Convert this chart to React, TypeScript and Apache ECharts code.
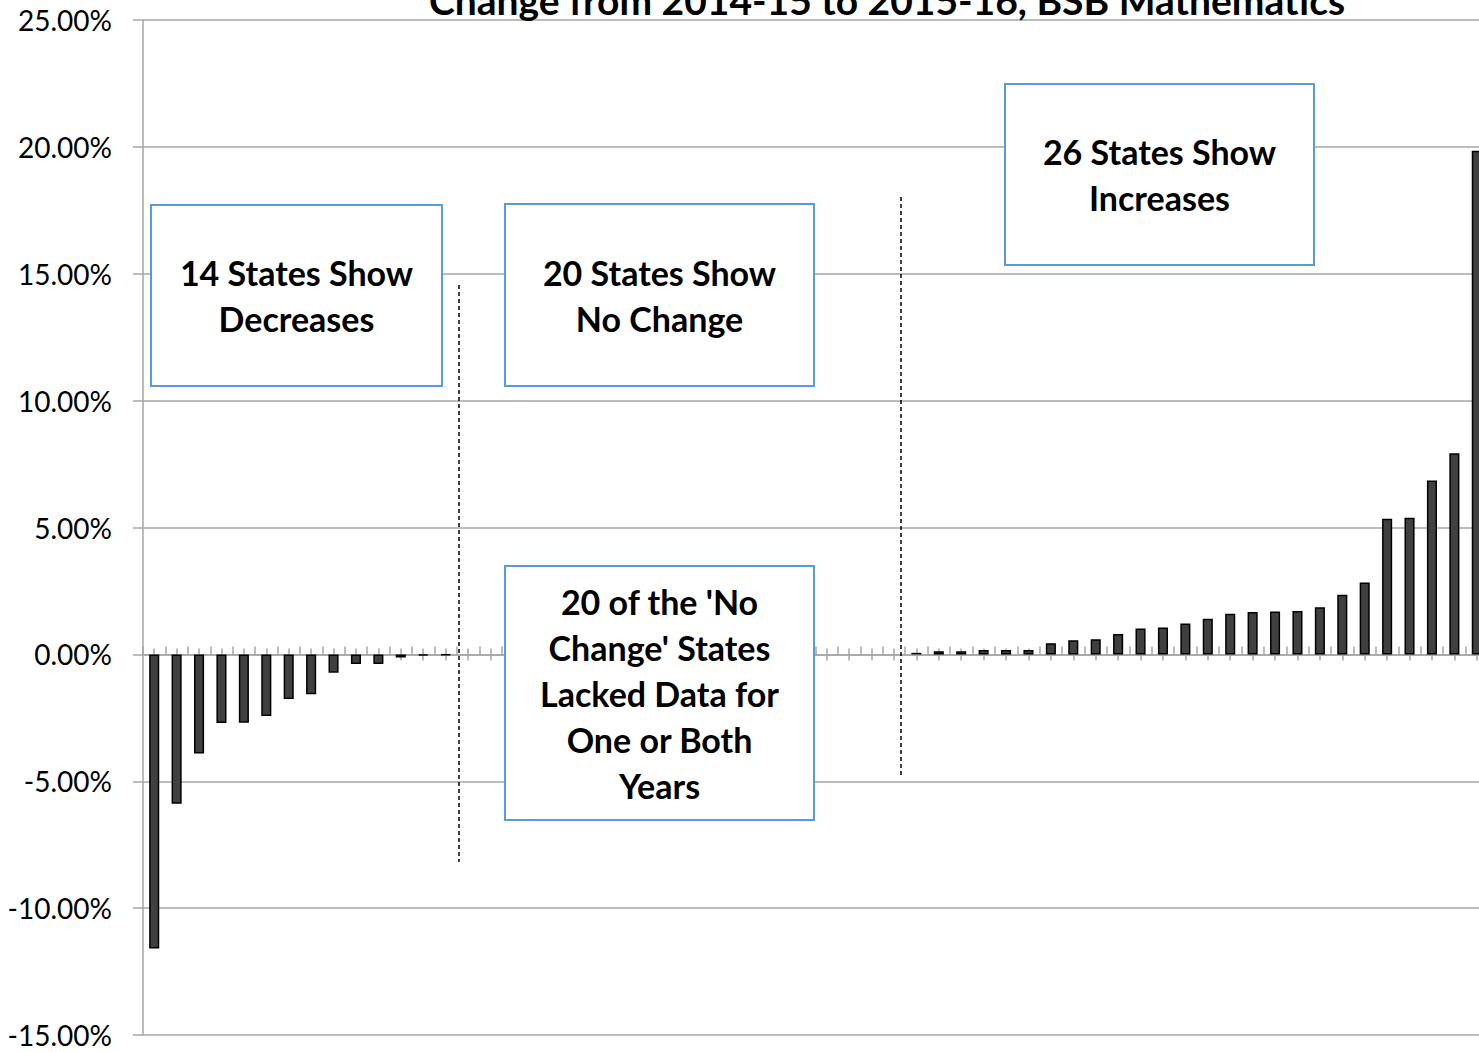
import React, { useEffect, useRef } from "react";
import * as echarts from "echarts";

// Percent change, 2014-15 to 2015-16, BSB Mathematics (sorted)
const decreases = [-11.59, -5.89, -3.91, -2.7, -2.69, -2.43, -1.76, -1.57, -0.72, -0.38, -0.38, -0.12, -0.04, -0.03];
const noChange = [0, 0, 0, 0, 0, 0, 0, 0, 0, 0, 0, 0, 0, 0, 0, 0, 0, 0, 0, 0];
const increases = [0.06, 0.12, 0.12, 0.17, 0.17, 0.17, 0.44, 0.56, 0.6, 0.8, 1.02, 1.06, 1.22, 1.4, 1.6, 1.67, 1.69, 1.71, 1.86, 2.35, 2.83, 5.34, 5.38, 6.85, 7.93, 19.85];
const values = [...decreases, ...noChange, ...increases];
const categories = values.map((_, i) => `State ${i + 1}`);

const yMin = -15;
const yMax = 25;
const yStep = 5;

const titleText = "Change from 2014-15 to 2015-16, BSB Mathematics";
const boxTexts = [
  "14 States Show\nDecreases",
  "20 States Show\nNo Change",
  "26 States Show\nIncreases",
  "20 of the 'No\nChange' States\nLacked Data for\nOne or Both\nYears",
];

const GREY = "#a6a6a6";
const BLUE = "#5b9bd5";
const FONT = "Lato";

function box(x: number, y: number, w: number, h: number, text: string) {
  return [
    {
      type: "rect",
      shape: { x, y, width: w, height: h },
      style: { fill: "#fff", stroke: BLUE, lineWidth: 2 },
      z: 10,
    },
    {
      type: "text",
      x: x + w / 2,
      y: y + h / 2,
      style: {
        text,
        fontFamily: FONT,
        fontWeight: "bold",
        fontSize: 34,
        lineHeight: 46,
        fill: "#000",
        align: "center",
        verticalAlign: "middle",
      },
      z: 11,
    },
  ];
}

export default function App() {
  const ref = useRef<HTMLDivElement>(null);
  useEffect(() => {
    if (!ref.current) return;
    const chart = echarts.init(ref.current, undefined, { renderer: "svg" });
    const tickAxis = (inside: boolean, len: number, align: boolean, showLine: boolean, yIdx: number) => ({
      type: "category",
      data: categories,
      position: "bottom",
      boundaryGap: true,
      axisLine: { show: showLine, onZero: true, onZeroAxisIndex: yIdx, lineStyle: { color: GREY, width: 1.5 } },
      axisTick: { show: true, interval: 0, inside, length: len, alignWithLabel: align, lineStyle: { color: GREY, width: 1.5 } },
      axisLabel: { show: false, interval: 0 },
      splitLine: { show: false },
    });
    const hiddenY = { type: "value", min: yMin, max: yMax, interval: yStep, show: false, splitLine: { show: false } };
    chart.setOption({
      animation: false,
      backgroundColor: "#fff",
      grid: { left: 143, right: 12, top: 20, bottom: 17, containLabel: false },
      xAxis: [tickAxis(true, 8, false, true, 0), tickAxis(false, 6, true, false, 1), tickAxis(true, 6, true, false, 2)],
      yAxis: [
        {
          type: "value",
          min: yMin,
          max: yMax,
          interval: yStep,
          axisLine: { show: true, lineStyle: { color: GREY, width: 1.5 } },
          axisTick: { show: true, inside: false, length: 10, lineStyle: { color: GREY, width: 1.5 } },
          axisLabel: {
            formatter: (v: number) => v.toFixed(2) + "%",
            fontFamily: FONT,
            fontSize: 28,
            color: "#000",
            margin: 31,
          },
          splitLine: { show: true, lineStyle: { color: GREY, width: 1.5 } },
        },
        hiddenY,
        hiddenY,
      ],
      series: [
        {
          type: "bar",
          xAxisIndex: 0,
          yAxisIndex: 0,
          data: values.map((v) => (v === 0 ? "-" : v)),
          barWidth: "45%",
          itemStyle: { color: "#404040", borderColor: "#000", borderWidth: 1.5 },
        },
      ],
      graphic: [
        {
          type: "text",
          x: 887,
          y: 0,
          style: {
            text: titleText,
            fontFamily: FONT,
            fontWeight: "bold",
            fontSize: 39,
            fill: "#000",
            align: "center",
            verticalAlign: "middle",
          },
          z: 12,
        },
        {
          type: "line",
          shape: { x1: 459, y1: 285, x2: 459, y2: 862 },
          style: { stroke: "#000", lineWidth: 1.5, lineDash: [4, 3] },
          z: 9,
        },
        {
          type: "line",
          shape: { x1: 901, y1: 197, x2: 901, y2: 777 },
          style: { stroke: "#000", lineWidth: 1.5, lineDash: [4, 3] },
          z: 9,
        },
        ...box(151, 205, 291, 181, boxTexts[0]),
        ...box(505, 204, 309, 182, boxTexts[1]),
        ...box(1005, 84, 309, 181, boxTexts[2]),
        ...box(505, 566, 309, 254, boxTexts[3]),
      ],
    });
    return () => chart.dispose();
  }, []);
  return (
    <div style={{ position: "fixed", left: 0, top: 0, width: 1479, height: 1052, overflow: "hidden", background: "#fff" }}>
      <div ref={ref} style={{ width: 1500, height: 1052 }} />
    </div>
  );
}
